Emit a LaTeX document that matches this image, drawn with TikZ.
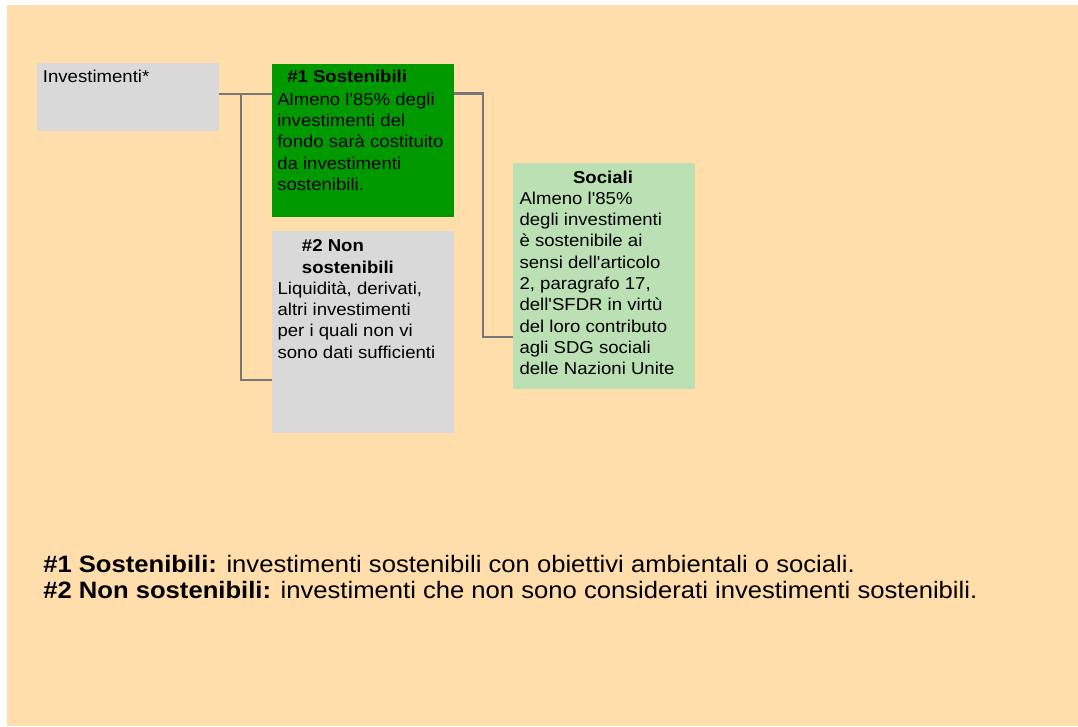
\documentclass[tikz,border=0pt]{standalone}
\usepackage{fontspec}
\setmainfont{Liberation Sans}[FakeStretch=1.08, Ligatures=TeXOff]
\definecolor{peach}{HTML}{FFDEAB}
\definecolor{boxgray}{HTML}{D9D9D9}
\definecolor{dgreen}{HTML}{009900}
\definecolor{lgreen}{HTML}{BBE0B4}
\definecolor{lineg}{HTML}{777777}
\newcommand\boxfont{\fontsize{12.9pt}{16pt}\selectfont}
\newcommand\footfont{\fontsize{17.8pt}{19.5pt}\selectfont}
\newcommand\mylines[1]{\parbox[t]{800pt}{\raggedright #1}}
\begin{document}
\begin{tikzpicture}[x=0.75pt,y=-0.75pt,
  box/.style={inner sep=0pt, outer sep=0pt, anchor=north west, minimum width=136.5pt},
  conn/.style={draw=lineg, line width=2pt},
  txt/.style={inner sep=0pt, anchor=base west, font=\boxfont},
  ttl/.style={txt, font=\boxfont\bfseries},
]
\useasboundingbox (0,0) rectangle (1078,726);
\fill[peach] (7,5) rectangle (1078,726);

% boxes
\node[box, fill=boxgray, minimum height=51pt] (inv) at (37,63) {};
\node[box, fill=dgreen, minimum height=114.4pt] (sost) at (272,64) {};
\node[box, fill=boxgray, minimum height=151.5pt] (non) at (272,231) {};
\node[box, fill=lgreen, minimum height=169.5pt] (soc) at (513,163) {};

% connectors
\coordinate (j1) at (241,94);
\coordinate (j2) at (241,380);
\coordinate (k1) at (483,93.5);
\coordinate (k2) at (483,337);
\draw[conn] (inv.east |- j1) -- (sost.west |- j1);
\draw[conn] (j1) -- (j2) -- (non.west |- j2);
\draw[conn] (sost.east |- k1) -- (k1) -- (k2) -- (soc.west |- k2);

% texts
\node[txt] (invt) at (42.7,82.3) {Investimenti*};
\node[ttl] (sostt) at (287,82.7) {\#1 Sostenibili};
\node[txt] (sostb) at (277,105) {\mylines{Almeno l'85\% degli\\investimenti del\\fondo sarà costituito\\da investimenti\\sostenibili.}};
\node[ttl] (nont) at (301.7,251.7) {\mylines{\#2 Non\\sostenibili}};
\node[txt] (nonb) at (277.3,294) {\mylines{Liquidità, derivati,\\altri investimenti\\per i quali non vi\\sono dati sufficienti}};
\node[ttl, anchor=base] (soct) at (603,183.3) {Sociali};
\node[txt] (socb) at (519.3,204) {\mylines{Almeno l'85\%\\degli investimenti\\è sostenibile ai\\sensi dell'articolo\\2, paragrafo 17,\\dell'SFDR in virtù\\del loro contributo\\agli SDG sociali\\delle Nazioni Unite}};
\node[txt, font=\footfont] (foot) at (43,572) {\mylines{\textbf{\#1 Sostenibili:} investimenti sostenibili con obiettivi ambientali o sociali.\\\textbf{\#2 Non sostenibili:} investimenti che non sono considerati investimenti sostenibili.}};
\end{tikzpicture}
\end{document}
